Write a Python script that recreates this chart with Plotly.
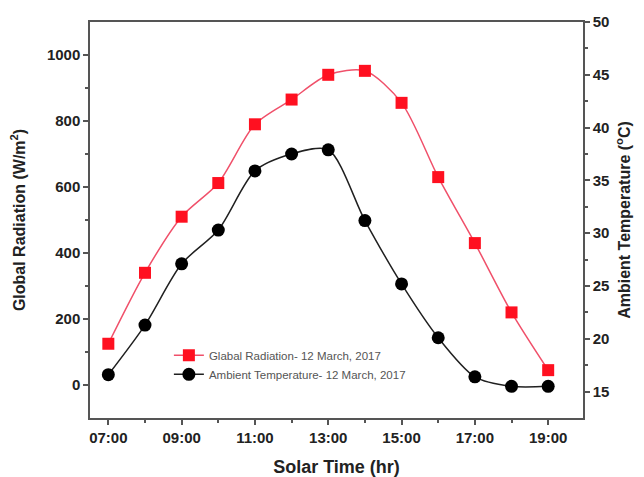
import plotly.graph_objects as go

hours = [7, 8, 9, 10, 11, 12, 13, 14, 15, 16, 17, 18, 19]
radiation = [125, 340, 510, 612, 790, 865, 940, 952, 855, 630, 430, 220, 45]
temperature = [16.6, 21.3, 27.1, 30.3, 35.9, 37.5, 37.9, 31.2, 25.2, 20.1, 16.4, 15.5, 15.5]
tick_vals = [7, 9, 11, 13, 15, 17, 19]
tick_text = ["07:00", "09:00", "11:00", "13:00", "15:00", "17:00", "19:00"]

FONT = "Arial, Liberation Sans, sans-serif"

fig = go.Figure()
fig.add_trace(go.Scatter(
    x=hours, y=radiation, name="Glabal Radiation- 12 March, 2017",
    mode="lines+markers", line=dict(color="#f0506a", width=1.5, shape="spline", smoothing=0.8),
    marker=dict(symbol="square", size=12, color="#ff1020"), yaxis="y"))
fig.add_trace(go.Scatter(
    x=hours, y=temperature, name="Ambient Temperature- 12 March, 2017",
    mode="lines+markers", line=dict(color="#202020", width=1.5, shape="spline", smoothing=0.8),
    marker=dict(symbol="circle", size=13, color="#000000"), yaxis="y2"))

axis_common = dict(showline=True, linecolor="#555555", linewidth=1.5, showgrid=False, zeroline=False,
                   ticks="outside", ticklen=5, tickwidth=1.5, tickcolor="#555555",
                   tickfont=dict(family=FONT, size=15, color="#222222", weight="bold"))

# page body has an 8px margin, so the figure is sized to fit the 644x477 window
fig.update_layout(
    width=636, height=469,
    margin=dict(l=82, r=61, t=14, b=59, autoexpand=False),
    paper_bgcolor="white", plot_bgcolor="white",
    showlegend=True,
    legend=dict(x=0.16, y=0.195, xanchor="left", yanchor="top", bgcolor="rgba(0,0,0,0)",
                font=dict(family=FONT, size=11.5, color="#555555"), tracegroupgap=0, itemwidth=30),
    xaxis=dict(range=[6.5, 19.95], tickvals=tick_vals, ticktext=tick_text, mirror=True,
               minor=dict(tickvals=[8, 10, 12, 14, 16, 18], ticks="outside", ticklen=3, tickcolor="#555555"),
               title=dict(text="Solar Time (hr)", font=dict(family=FONT, size=18, color="#222222", weight="bold"), standoff=19),
               **axis_common),
    yaxis=dict(range=[-100, 1100], tickvals=[0, 200, 400, 600, 800, 1000],
               minor=dict(tickvals=[100, 300, 500, 700, 900], ticks="outside", ticklen=3, tickcolor="#555555"),
               title=dict(text="Global Radiation (W/m<sup>2</sup>)", font=dict(family=FONT, size=16, color="#222222", weight="bold"), standoff=22),
               **axis_common),
    yaxis2=dict(range=[12.5, 50], overlaying="y", side="right", tickvals=[15, 20, 25, 30, 35, 40, 45, 50],
                minor=dict(tickvals=[17.5, 22.5, 27.5, 32.5, 37.5, 42.5, 47.5], ticks="outside", ticklen=3, tickcolor="#555555"),
                title=dict(text="Ambient Temperature (<sup>o</sup>C)", font=dict(family=FONT, size=16, color="#222222", weight="bold"), standoff=10),
                **axis_common),
)

fig.write_html("out.html")
